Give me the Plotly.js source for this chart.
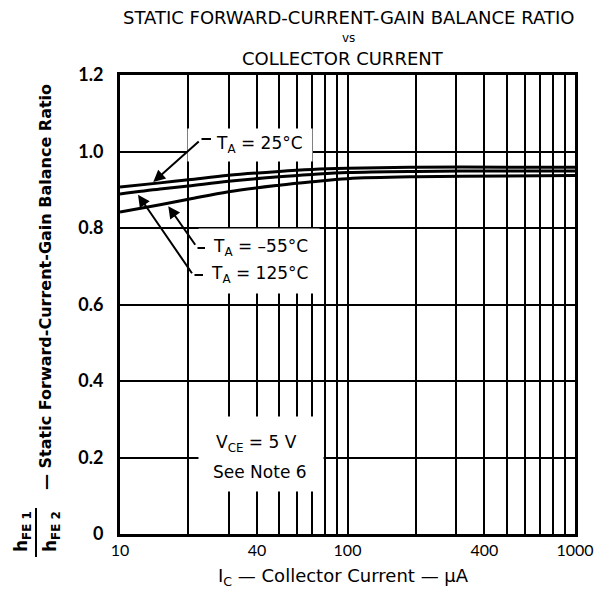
<!DOCTYPE html>
<html>
<head>
<meta charset="utf-8">
<script src="https://cdn.plot.ly/plotly-3.0.1.min.js"></script>
<style>html,body{margin:0;padding:0;background:#fff;}#chart{width:594px;height:590px;}</style>
</head>
<body>
<div id="chart"></div>
<script>
// Collector current (µA)
var currentUA = [10, 15, 20, 30, 50, 70, 100, 200, 500, 1000];
// Balance ratio hFE1/hFE2 by ambient temperature
var ratio25C  = [0.907, 0.918, 0.926, 0.938, 0.948, 0.953, 0.956, 0.959, 0.959, 0.959];
var ratio125C = [0.889, 0.902, 0.910, 0.922, 0.934, 0.940, 0.945, 0.948, 0.949, 0.949];
var ratioM55C = [0.842, 0.861, 0.875, 0.895, 0.912, 0.921, 0.929, 0.934, 0.936, 0.937];

var xGridVals = [10,20,30,40,50,60,70,80,90,100,200,300,400,500,600,700,800,900,1000];
var xLabeled = {10:'10', 40:'40', 100:'100', 400:'400', 1000:'1000'};
var xTickText = xGridVals.map(function(v){ return xLabeled[v] || ''; });
var yTickVals = [0, 0.2, 0.4, 0.6, 0.8, 1.0, 1.2];
var yTickText = ['0', '0.2', '0.4', '0.6', '0.8', '1.0', '1.2'];

var FONT = 'Lato, "Noto Sans", sans-serif';
var WIDE = '"DejaVu Sans", sans-serif';
function line(y){
  return {x: currentUA, y: y, mode: 'lines', line: {color: '#000', width: 3, shape: 'spline'},
          hoverinfo: 'skip', showlegend: false};
}
var traces = [line(ratio25C), line(ratio125C), line(ratioM55C)];

function lg(v){ return Math.log10(v); }
function px(v){ return (v-120)/455; }
function py(v){ return (534-v)/459; }

function box(cx, cy, w, h){
  return {xref:'paper', yref:'paper', x:px(cx), y:py(cy), xanchor:'center', yanchor:'middle',
          text:' ', showarrow:false, bgcolor:'#fff', width:w, height:h, font:{size:10}};
}
function label(cx, cy, t, size){
  return {xref:'paper', yref:'paper', x:px(cx), y:py(cy), xanchor:'center', yanchor:'middle',
          text:t, showarrow:false, font:{family:WIDE, size:size || 17, color:'#000'}};
}

var annotations = [
  // white boxes interrupting the grid
  box(250, 145, 122, 30),
  box(259, 261, 118, 62),
  box(261, 454, 122, 72),
  // labels
  label(259, 144, 'T<sub>A</sub> = 25°C'),
  label(260, 247, 'T<sub>A</sub> = –55°C'),
  label(259, 274, 'T<sub>A</sub> = 125°C'),
  label(256, 443, 'V<sub>CE</sub> = 5 V'),
  label(260, 472, 'See Note 6'),
  // leaders with arrowheads
  {x:lg(14.0), y:0.920, xref:'x', yref:'y', text:'', showarrow:true, ax:47, ay:-42,
   arrowhead:2, arrowsize:1.2, arrowwidth:2, arrowcolor:'#000', standoff:0},
  {x:lg(16.3), y:0.857, xref:'x', yref:'y', text:'', showarrow:true, ax:28, ay:40,
   arrowhead:2, arrowsize:1.2, arrowwidth:2, arrowcolor:'#000', standoff:0},
  {x:lg(12.0), y:0.887, xref:'x', yref:'y', text:'', showarrow:true, ax:55, ay:80,
   arrowhead:2, arrowsize:1.2, arrowwidth:2, arrowcolor:'#000', standoff:0},
  // stubs
  {x:px(211), y:py(139), xref:'paper', yref:'paper', text:'', showarrow:true, ax:-11, ay:0,
   arrowhead:0, arrowwidth:2, arrowcolor:'#000', standoff:0},
  {x:px(205), y:py(248), xref:'paper', yref:'paper', text:'', showarrow:true, ax:-9, ay:0,
   arrowhead:0, arrowwidth:2, arrowcolor:'#000', standoff:0},
  {x:px(203), y:py(275), xref:'paper', yref:'paper', text:'', showarrow:true, ax:-10, ay:0,
   arrowhead:0, arrowwidth:2, arrowcolor:'#000', standoff:0},
  // title lines
  label(348, 17, 'STATIC FORWARD-CURRENT-GAIN BALANCE RATIO', 18),
  label(348, 38, 'vs', 12),
  label(343, 59, 'COLLECTOR CURRENT', 18),
  // x axis title
  label(343, 577, 'I<sub>C</sub> — Collector Current — μA', 18),
  // y axis title
  {xref:'paper', yref:'paper', x:px(45), y:py(287), xanchor:'center', yanchor:'middle', textangle:-90,
   text:'— Static Forward-Current-Gain Balance Ratio', showarrow:false, font:{family:WIDE, size:16, color:'#000', weight:'bold'}},
  {xref:'paper', yref:'paper', x:px(22), y:py(532), xanchor:'center', yanchor:'middle', textangle:-90,
   text:'h<sub>FE 1</sub>', showarrow:false, font:{family:WIDE, size:17, color:'#000', weight:'bold'}},
  {xref:'paper', yref:'paper', x:px(51), y:py(532), xanchor:'center', yanchor:'middle', textangle:-90,
   text:'h<sub>FE 2</sub>', showarrow:false, font:{family:WIDE, size:17, color:'#000', weight:'bold'}}
];

var shapes = [
  {type:'line', xref:'paper', yref:'paper', x0:px(36), x1:px(36), y0:py(508), y1:py(557),
   line:{color:'#000', width:2}}
];

var layout = {
  width: 594, height: 590,
  margin: {l:120, r:19, t:75, b:56, pad:0},
  paper_bgcolor: '#fff', plot_bgcolor: '#fff',
  showlegend: false,
  font: {family: FONT, color: '#000'},
  xaxis: {type:'log', range:[1, 3], tickvals: xGridVals, ticktext: xTickText,
          showgrid:true, gridcolor:'#000', gridwidth:2, zeroline:false,
          showline:true, mirror:true, linecolor:'#000', linewidth:3, automargin:false,
          ticks:'', tickfont:{family:FONT, size:16, color:'#000'}, fixedrange:true},
  yaxis: {range:[0, 1.2], tickvals: yTickVals, ticktext: yTickText,
          showgrid:true, gridcolor:'#000', gridwidth:2, zeroline:false,
          showline:true, mirror:true, linecolor:'#000', linewidth:3, automargin:false,
          ticks:'outside', ticklen:10, tickcolor:'rgba(0,0,0,0)',
          tickfont:{family:FONT, size:18, color:'#000', weight:'bold'}, fixedrange:true},
  annotations: annotations,
  shapes: shapes
};

Plotly.newPlot('chart', traces, layout, {staticPlot:true, displayModeBar:false});
</script>
</body>
</html>
